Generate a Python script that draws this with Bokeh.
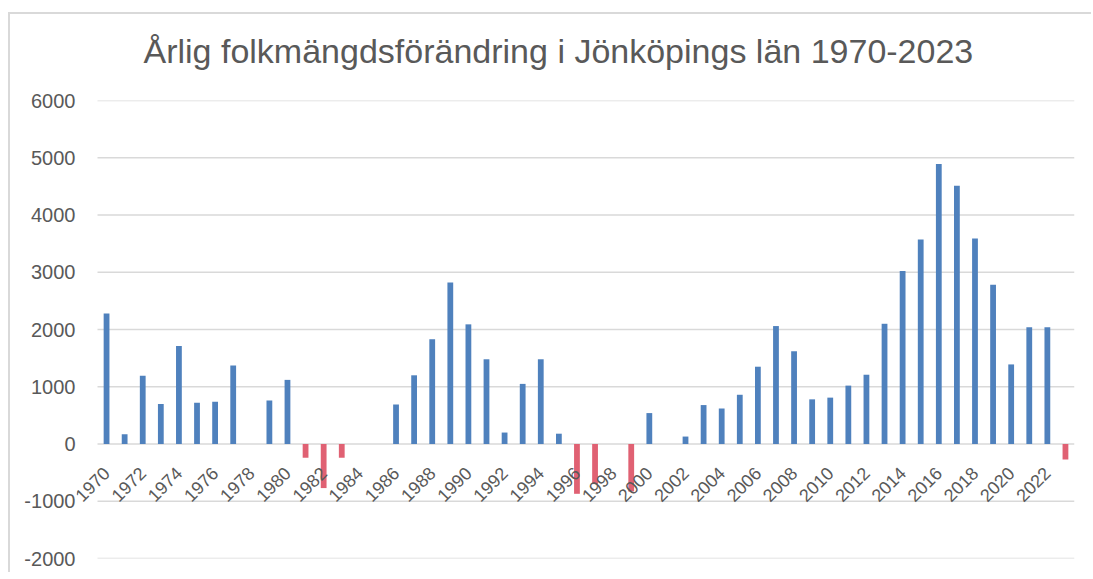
import math
from bokeh.plotting import figure
from bokeh.models import ColumnDataSource, FixedTicker, Range1d, Title
from bokeh.embed import file_html
from bokeh.resources import INLINE

title_text = "Årlig folkmängdsförändring i Jönköpings län 1970-2023"
years = list(range(1970, 2024))
changes = [
    2280, 170, 1190, 700, 1710, 720, 740, 1370, 0, 760,
    1120, -240, -770, -240, 0, 0, 690, 1200, 1830, 2820,
    2090, 1480, 200, 1050, 1480, 180, -870, -700, 0, -830,
    540, 0, 130, 680, 620, 860, 1350, 2060, 1620, 780,
    810, 1020, 1210, 2100, 3020, 3570, 4890, 4510, 3590, 2780,
    1390, 2040, 2040, -270,
]
y_ticks = [-2000, -1000, 0, 1000, 2000, 3000, 4000, 5000, 6000]
y_labels = ["-2000", "-1000", "0", "1000", "2000", "3000", "4000", "5000", "6000"]
x_ticks = list(range(1970, 2023, 2))

POS = "#4F81BD"
NEG = "#E06173"
colors = [POS if v >= 0 else NEG for v in changes]

src = ColumnDataSource(dict(year=years, change=changes, color=colors))

x_lo = years[0] - 0.5
x_hi = years[-1] + 0.5
grid_src = ColumnDataSource(dict(
    x0=[x_lo] * len(y_ticks), x1=[x_hi] * len(y_ticks), y=y_ticks,
))

p = figure(
    width=1083, height=560,
    output_backend="svg", toolbar_location=None,
    x_range=Range1d(x_lo - 1.161, x_hi), y_range=Range1d(-2000, 6000),
    min_border_left=66, min_border_right=19, min_border_top=86, min_border_bottom=16,
)
p.styles = {
    "border-left": "2px solid #d9d9d9", "border-top": "2px solid #d9d9d9",
    "border-right": "none", "border-bottom": "none",
    "margin-top": "12px", "margin-left": "8px",
    "overflow": "hidden",
}

# built-in title left empty; a spacer keeps the real title clear of the plot area
p.title.text = ""
p.title.standoff = 0
spacer = Title(text=" ", text_font_size="10px", standoff=18, text_color="white")
p.add_layout(spacer, "above")
main_title = Title(
    text=title_text, align="left", offset=67, standoff=0,
    text_font="Liberation Sans", text_font_size="34px", text_font_style="normal",
    text_color="#595959",
)
p.add_layout(main_title, "above")

# horizontal gridlines limited to the category span
p.segment(x0="x0", x1="x1", y0="y", y1="y", source=grid_src,
          line_color="#d9d9d9", line_width=1.5)

p.vbar(x="year", top="change", bottom=0, width=0.32, color="color", line_color=None, source=src)

p.outline_line_color = None
p.background_fill_color = "white"
p.border_fill_color = "white"

p.xgrid.visible = False
p.ygrid.visible = False

ya = p.yaxis[0]
ya.ticker = FixedTicker(ticks=y_ticks)
ya.major_label_overrides = {t: lab for t, lab in zip(y_ticks, y_labels)}
ya.axis_line_color = None
ya.major_tick_line_color = None
ya.minor_tick_line_color = None
ya.major_tick_out = 0
ya.major_tick_in = 0
ya.major_label_standoff = 1
ya.major_label_text_font = "Liberation Sans"
ya.major_label_text_font_size = "20px"
ya.major_label_text_color = "#595959"

xa = p.xaxis[0]
xa.fixed_location = 0
xa.ticker = FixedTicker(ticks=x_ticks)
xa.axis_line_color = None
xa.major_tick_line_color = None
xa.minor_tick_line_color = None
xa.major_label_orientation = math.pi / 4
xa.major_label_standoff = 20
xa.major_label_text_font = "Liberation Sans"
xa.major_label_text_font_size = "18px"
xa.major_label_text_color = "#595959"

open("out.html", "w").write(file_html(p, INLINE))
